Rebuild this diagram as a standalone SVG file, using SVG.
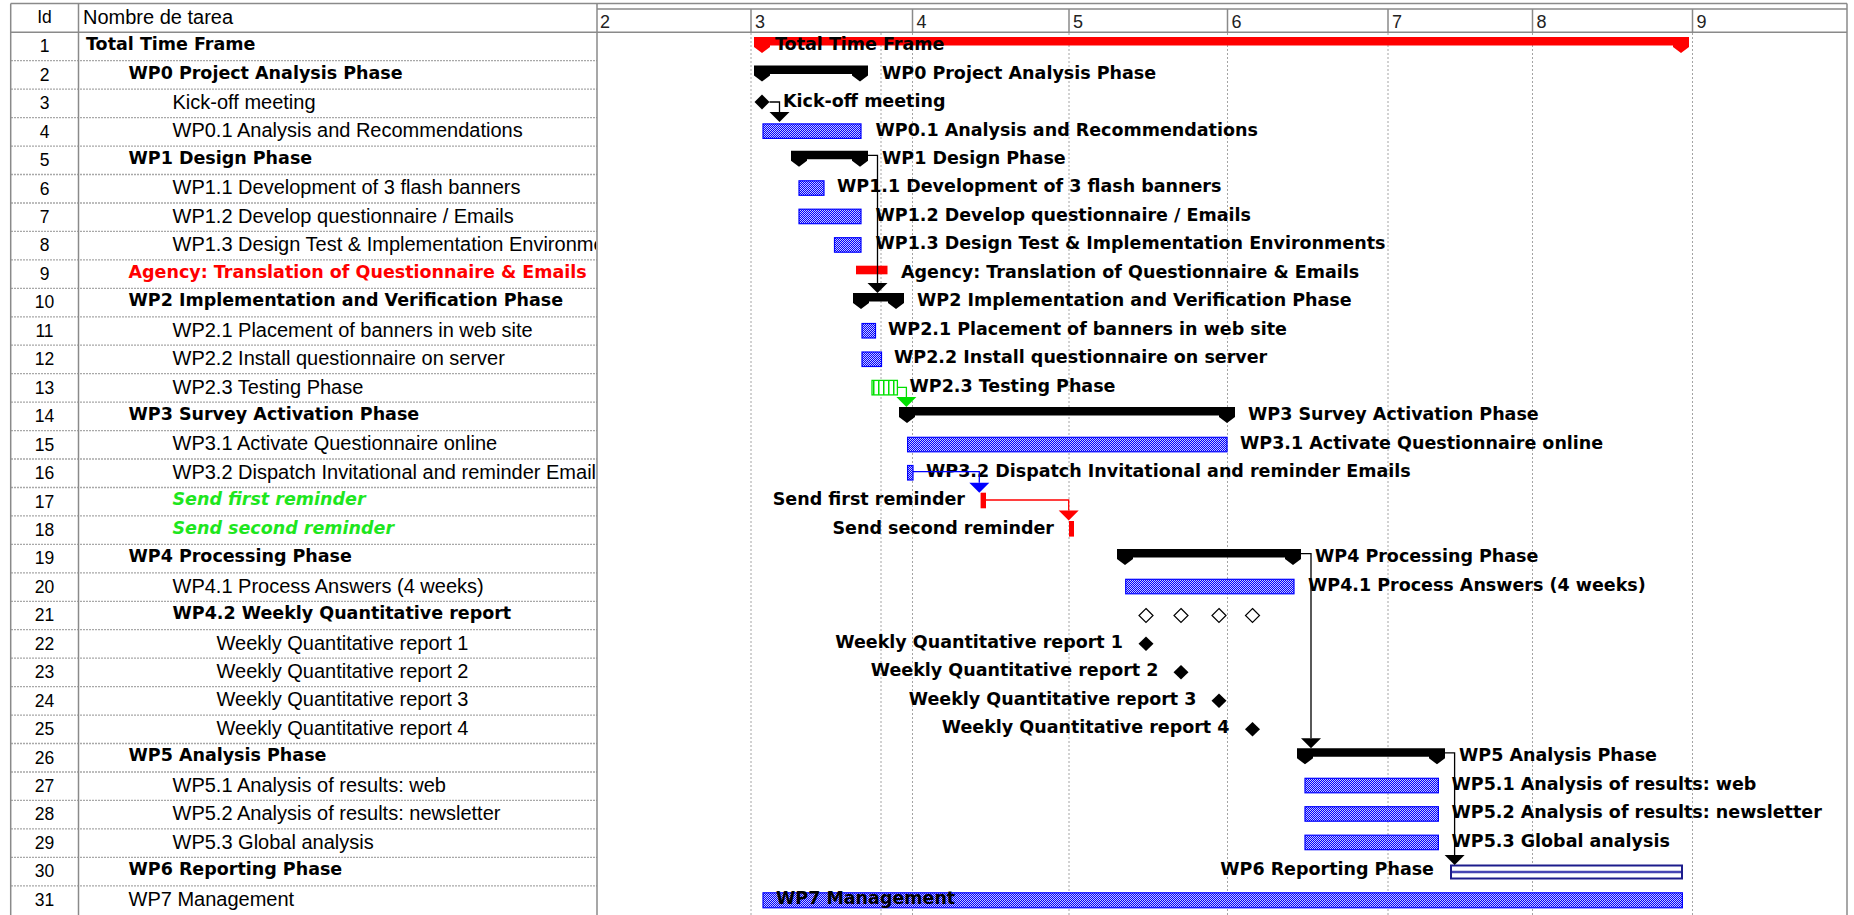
<svg xmlns="http://www.w3.org/2000/svg" width="1854" height="915" viewBox="0 0 1854 915">
<style>
.bord{stroke:#8a8a8a;stroke-width:1.5;fill:none}
.rowl{stroke:#a8a8a8;stroke-width:1.3;stroke-dasharray:2 1;fill:none}
.vg{stroke:#a4a4a4;stroke-width:1;stroke-dasharray:2 2;fill:none}
.id{font-family:"Liberation Sans",Arial,sans-serif;font-size:17.5px;text-anchor:middle;fill:#000}
.wk{font-family:"Liberation Sans",Arial,sans-serif;font-size:18px;fill:#222}
.tn{font-family:"Liberation Sans",Arial,sans-serif;font-size:20px;fill:#000}
.tb{font-family:"DejaVu Sans",Verdana,sans-serif;font-weight:bold;font-size:17.5px;fill:#000}
.red{fill:#ff0000}
.grn{fill:#1ee61e;font-style:italic}
.end{text-anchor:end}
.task{fill:url(#hatch);stroke:#0000ff;stroke-width:1.2}
.sum{fill:#000}
.conn{stroke:#000;stroke-width:1.3;fill:none}
.ms{fill:#000}
.msh{fill:#fff;stroke:#000;stroke-width:1.2}
</style>
<defs>
<pattern id="hatch" width="2" height="2" patternUnits="userSpaceOnUse">
<rect width="2" height="2" fill="#0000ff"/>
<rect width="1" height="1" fill="#c8c8ff"/>
<rect x="1" y="1" width="1" height="1" fill="#c8c8ff"/>
</pattern>
<pattern id="stripe" width="5" height="4" patternUnits="userSpaceOnUse">
<rect width="5" height="4" fill="#fff"/>
<rect x="3" width="1.5" height="4" fill="#00e000"/>
</pattern>
<clipPath id="namecol"><rect x="79" y="0" width="517" height="915"/></clipPath>
</defs>
<rect width="1854" height="915" fill="#fff"/>

<g id="grid">
<line class="vg" x1="751" y1="33" x2="751" y2="915"/>
<line class="vg" x1="881" y1="33" x2="881" y2="915"/>
<line class="vg" x1="912.5" y1="33" x2="912.5" y2="915"/>
<line class="vg" x1="1069" y1="33" x2="1069" y2="915"/>
<line class="vg" x1="1227.5" y1="33" x2="1227.5" y2="915"/>
<line class="vg" x1="1388" y1="33" x2="1388" y2="915"/>
<line class="vg" x1="1532.5" y1="33" x2="1532.5" y2="915"/>
<line class="vg" x1="1692.5" y1="33" x2="1692.5" y2="915"/>
<path class="rowl" d="M11 60.7H597M11 89.2H597M11 117.6H597M11 146.1H597M11 174.5H597M11 203H597M11 231.4H597M11 259.9H597M11 288.3H597M11 316.8H597M11 345.2H597M11 373.7H597M11 402.1H597M11 430.6H597M11 459H597M11 487.5H597M11 515.9H597M11 544.4H597M11 572.8H597M11 601.3H597M11 629.7H597M11 658.2H597M11 686.6H597M11 715.1H597M11 743.5H597M11 772H597M11 800.4H597M11 828.9H597M11 857.3H597M11 885.8H597"/>
<path class="bord" d="M10.7 3.5H1847M10.7 32.3H1847M597 9H1847M10.7 3.5V915M78.5 3.5V915M597 3.5V915M1847 3.5V915M751 9V32.3M912.5 9V32.3M1069 9V32.3M1227.5 9V32.3M1388 9V32.3M1532.5 9V32.3M1692.5 9V32.3"/>
<text class="id" x="44.5" y="23.3">Id</text>
<text class="tn" x="83" y="23.5">Nombre de tarea</text>
<text class="wk" x="600" y="28">2</text>
<text class="wk" x="755" y="28">3</text>
<text class="wk" x="916.5" y="28">4</text>
<text class="wk" x="1073" y="28">5</text>
<text class="wk" x="1231.5" y="28">6</text>
<text class="wk" x="1392" y="28">7</text>
<text class="wk" x="1536.5" y="28">8</text>
<text class="wk" x="1696.5" y="28">9</text>
</g>

<g id="ids">
<text class="id" x="44.5" y="52.3">1</text>
<text class="id" x="44.5" y="80.75">2</text>
<text class="id" x="44.5" y="109.2">3</text>
<text class="id" x="44.5" y="137.65">4</text>
<text class="id" x="44.5" y="166.1">5</text>
<text class="id" x="44.5" y="194.55">6</text>
<text class="id" x="44.5" y="223">7</text>
<text class="id" x="44.5" y="251.45">8</text>
<text class="id" x="44.5" y="279.9">9</text>
<text class="id" x="44.5" y="308.35">10</text>
<text class="id" x="44.5" y="336.8">11</text>
<text class="id" x="44.5" y="365.25">12</text>
<text class="id" x="44.5" y="393.7">13</text>
<text class="id" x="44.5" y="422.15">14</text>
<text class="id" x="44.5" y="450.6">15</text>
<text class="id" x="44.5" y="479.05">16</text>
<text class="id" x="44.5" y="507.5">17</text>
<text class="id" x="44.5" y="535.95">18</text>
<text class="id" x="44.5" y="564.4">19</text>
<text class="id" x="44.5" y="592.85">20</text>
<text class="id" x="44.5" y="621.3">21</text>
<text class="id" x="44.5" y="649.75">22</text>
<text class="id" x="44.5" y="678.2">23</text>
<text class="id" x="44.5" y="706.65">24</text>
<text class="id" x="44.5" y="735.1">25</text>
<text class="id" x="44.5" y="763.55">26</text>
<text class="id" x="44.5" y="792">27</text>
<text class="id" x="44.5" y="820.45">28</text>
<text class="id" x="44.5" y="848.9">29</text>
<text class="id" x="44.5" y="877.35">30</text>
<text class="id" x="44.5" y="905.8">31</text>
</g>

<g id="names" clip-path="url(#namecol)">
<text class="tb" x="86" y="50.2">Total Time Frame</text>
<text class="tb" x="128.5" y="78.65">WP0 Project Analysis Phase</text>
<text class="tn" x="172.5" y="109">Kick-off meeting</text>
<text class="tn" x="172.5" y="137.45">WP0.1 Analysis and Recommendations</text>
<text class="tb" x="128.5" y="164">WP1 Design Phase</text>
<text class="tn" x="172.5" y="194.35">WP1.1 Development of 3 flash banners</text>
<text class="tn" x="172.5" y="222.8">WP1.2 Develop questionnaire / Emails</text>
<text class="tn" x="172.5" y="251.25">WP1.3 Design Test &amp; Implementation Environments</text>
<text class="tb red" x="128.5" y="277.8">Agency: Translation of Questionnaire &amp; Emails</text>
<text class="tb" x="128.5" y="306.25">WP2 Implementation and Verification Phase</text>
<text class="tn" x="172.5" y="336.6">WP2.1 Placement of banners in web site</text>
<text class="tn" x="172.5" y="365.05">WP2.2 Install questionnaire on server</text>
<text class="tn" x="172.5" y="393.5">WP2.3 Testing Phase</text>
<text class="tb" x="128.5" y="420.05">WP3 Survey Activation Phase</text>
<text class="tn" x="172.5" y="450.4">WP3.1 Activate Questionnaire online</text>
<text class="tn" x="172.5" y="478.85">WP3.2 Dispatch Invitational and reminder Emails</text>
<text class="tb grn" x="172.5" y="505.4">Send first reminder</text>
<text class="tb grn" x="172.5" y="533.85">Send second reminder</text>
<text class="tb" x="128.5" y="562.3">WP4 Processing Phase</text>
<text class="tn" x="172.5" y="592.65">WP4.1 Process Answers (4 weeks)</text>
<text class="tb" x="172.5" y="619.2">WP4.2 Weekly Quantitative report</text>
<text class="tn" x="216.5" y="649.55">Weekly Quantitative report 1</text>
<text class="tn" x="216.5" y="678">Weekly Quantitative report 2</text>
<text class="tn" x="216.5" y="706.45">Weekly Quantitative report 3</text>
<text class="tn" x="216.5" y="734.9">Weekly Quantitative report 4</text>
<text class="tb" x="128.5" y="761.45">WP5 Analysis Phase</text>
<text class="tn" x="172.5" y="791.8">WP5.1 Analysis of results: web</text>
<text class="tn" x="172.5" y="820.25">WP5.2 Analysis of results: newsletter</text>
<text class="tn" x="172.5" y="848.7">WP5.3 Global analysis</text>
<text class="tb" x="128.5" y="875.25">WP6 Reporting Phase</text>
<text class="tn" x="128.5" y="905.6">WP7 Management</text>
</g>

<g id="bar-1">
<path fill="#ff0000" d="M754 37H1689V47L1681 53L1673 47V45.5H770V47L762 53L754 47Z"/>
<text class="tb" x="775" y="50.2">Total Time Frame</text>
</g>
<g id="bar-2">
<path class="sum" d="M754 65.5H868V75.5L860 81.5L852 75.5V74H770V75.5L762 81.5L754 75.5Z"/>
<text class="tb" x="882" y="78.65">WP0 Project Analysis Phase</text>
</g>
<g id="bar-3">
<path class="ms" d="M762 94.5L769.5 102L762 109.5L754.5 102Z"/>
<text class="tb" x="783" y="107.1">Kick-off meeting</text>
</g>
<g id="bar-4">
<rect class="task" x="763" y="123.9" width="98" height="14.5"/>
<text class="tb" x="875.5" y="135.55">WP0.1 Analysis and Recommendations</text>
</g>
<g id="bar-5">
<path class="sum" d="M791 150.8H868V160.8L860 166.8L852 160.8V159.3H807V160.8L799 166.8L791 160.8Z"/>
<text class="tb" x="882" y="164">WP1 Design Phase</text>
</g>
<g id="bar-6">
<rect class="task" x="799" y="180.8" width="25" height="14.5"/>
<text class="tb" x="837" y="192.45">WP1.1 Development of 3 flash banners</text>
</g>
<g id="bar-7">
<rect class="task" x="799" y="209.2" width="62" height="14.5"/>
<text class="tb" x="875.5" y="220.9">WP1.2 Develop questionnaire / Emails</text>
</g>
<g id="bar-8">
<rect class="task" x="834.5" y="237.7" width="26.5" height="14.5"/>
<text class="tb" x="875.5" y="249.35">WP1.3 Design Test &amp; Implementation Environments</text>
</g>
<g id="bar-9">
<rect fill="#ff0000" x="856" y="265.7" width="31.5" height="8.6"/>
<text class="tb" x="901" y="277.8">Agency: Translation of Questionnaire &amp; Emails</text>
</g>
<g id="bar-10">
<path class="sum" d="M853 293H904V303L896 309L888 303V301.5H869V303L861 309L853 303Z"/>
<text class="tb" x="917" y="306.25">WP2 Implementation and Verification Phase</text>
</g>
<g id="bar-11">
<rect class="task" x="862" y="323.5" width="13.5" height="14.5"/>
<text class="tb" x="888" y="334.7">WP2.1 Placement of banners in web site</text>
</g>
<g id="bar-12">
<rect class="task" x="862" y="352" width="19.5" height="14.5"/>
<text class="tb" x="894" y="363.15">WP2.2 Install questionnaire on server</text>
</g>
<g id="bar-13">
<rect fill="url(#stripe)" stroke="#00e000" stroke-width="1.3" x="872" y="380.4" width="25.4" height="14.5"/>
<text class="tb" x="909.5" y="391.6">WP2.3 Testing Phase</text>
</g>
<g id="bar-14">
<path class="sum" d="M899 407H1235V417L1227 423L1219 417V415.5H915V417L907 423L899 417Z"/>
<text class="tb" x="1248" y="420.05">WP3 Survey Activation Phase</text>
</g>
<g id="bar-15">
<rect class="task" x="907.6" y="437.3" width="319.4" height="14.5"/>
<text class="tb" x="1240" y="448.5">WP3.1 Activate Questionnaire online</text>
</g>
<g id="bar-16">
<rect class="task" x="907.6" y="465.5" width="5.4" height="14.5"/>
<text class="tb" x="926" y="476.95">WP3.2 Dispatch Invitational and reminder Emails</text>
</g>
<g id="bar-17">
<rect fill="#ff0000" x="980.6" y="492.7" width="5.4" height="15.6"/>
<text class="tb end" x="965" y="505.4">Send first reminder</text>
</g>
<g id="bar-18">
<rect fill="#ff0000" x="1069" y="521" width="5" height="15.6"/>
<text class="tb end" x="1054" y="533.85">Send second reminder</text>
</g>
<g id="bar-19">
<path class="sum" d="M1117 549.1H1301V559.1L1293 565.1L1285 559.1V557.6H1133V559.1L1125 565.1L1117 559.1Z"/>
<text class="tb" x="1315" y="562.3">WP4 Processing Phase</text>
</g>
<g id="bar-20">
<rect class="task" x="1125.7" y="579.3" width="168.3" height="14.5"/>
<text class="tb" x="1308" y="590.75">WP4.1 Process Answers (4 weeks)</text>
</g>
<g id="bar-21">
<path class="msh" d="M1146 608.5L1153 615.5L1146 622.5L1139 615.5Z"/>
<path class="msh" d="M1181 608.5L1188 615.5L1181 622.5L1174 615.5Z"/>
<path class="msh" d="M1219 608.5L1226 615.5L1219 622.5L1212 615.5Z"/>
<path class="msh" d="M1252.5 608.5L1259.5 615.5L1252.5 622.5L1245.5 615.5Z"/>
</g>
<g id="bar-22">
<path class="ms" d="M1146 636.5L1153.5 643.8L1146 651.1L1138.5 643.8Z"/>
<text class="tb end" x="1123" y="647.65">Weekly Quantitative report 1</text>
</g>
<g id="bar-23">
<path class="ms" d="M1181 665L1188.5 672.3L1181 679.6L1173.5 672.3Z"/>
<text class="tb end" x="1158.5" y="676.1">Weekly Quantitative report 2</text>
</g>
<g id="bar-24">
<path class="ms" d="M1219 693.4L1226.5 700.7L1219 708L1211.5 700.7Z"/>
<text class="tb end" x="1196.5" y="704.55">Weekly Quantitative report 3</text>
</g>
<g id="bar-25">
<path class="ms" d="M1252.5 721.9L1260 729.2L1252.5 736.5L1245 729.2Z"/>
<text class="tb end" x="1229.5" y="733">Weekly Quantitative report 4</text>
</g>
<g id="bar-26">
<path class="sum" d="M1297 748.3H1445V758.3L1437 764.3L1429 758.3V756.8H1313V758.3L1305 764.3L1297 758.3Z"/>
<text class="tb" x="1459" y="761.45">WP5 Analysis Phase</text>
</g>
<g id="bar-27">
<rect class="task" x="1305" y="778.3" width="133.4" height="14.5"/>
<text class="tb" x="1451.5" y="789.9">WP5.1 Analysis of results: web</text>
</g>
<g id="bar-28">
<rect class="task" x="1305" y="806.7" width="133.4" height="14.5"/>
<text class="tb" x="1451.5" y="818.35">WP5.2 Analysis of results: newsletter</text>
</g>
<g id="bar-29">
<rect class="task" x="1305" y="835.2" width="133.4" height="14.5"/>
<text class="tb" x="1451.5" y="846.8">WP5.3 Global analysis</text>
</g>
<g id="bar-30">
<rect fill="#fff" stroke="#1c1c8c" stroke-width="2" x="1451" y="865.5" width="231" height="13"/>
<line stroke="#4646b4" stroke-width="2.5" x1="1452" y1="872" x2="1681" y2="872"/>
<text class="tb end" x="1434" y="875.25">WP6 Reporting Phase</text>
</g>
<g id="bar-31">
<rect class="task" x="763" y="892.8" width="919.4" height="15"/>
<text class="tb" x="776" y="903.7">WP7 Management</text>
</g>

<g id="connectors">
<path class="conn" d="M769.5 102H779.5V112"/>
<path fill="#000" d="M769.5 112H789.5L779.5 122Z"/>
<path class="conn" d="M868 155.3H877.5V283"/>
<path fill="#000" d="M867.5 283H887.5L877.5 293Z"/>
<path fill="none" stroke="#00e000" stroke-width="1.3" d="M897.4 387.3H906.4V397"/>
<path fill="#00e000" d="M896.4 397H916.4L906.4 407Z"/>
<path fill="none" stroke="#0000ff" stroke-width="1.3" d="M913 471.7H979.3V482.7"/>
<path fill="#0000ff" d="M969.3 482.7H989.3L979.3 492.7Z"/>
<path fill="none" stroke="#ff0000" stroke-width="1.3" d="M986 500H1068.7V510.5"/>
<path fill="#ff0000" d="M1058.7 510.5H1078.7L1068.7 520.5Z"/>
<path class="conn" d="M1301 553.6H1311V738.3"/>
<path fill="#000" d="M1301 738.3H1321L1311 748.3Z"/>
<path class="conn" d="M1445 752.8H1454.6V855"/>
<path fill="#000" d="M1444.6 855H1464.6L1454.6 865Z"/>
</g>
</svg>
